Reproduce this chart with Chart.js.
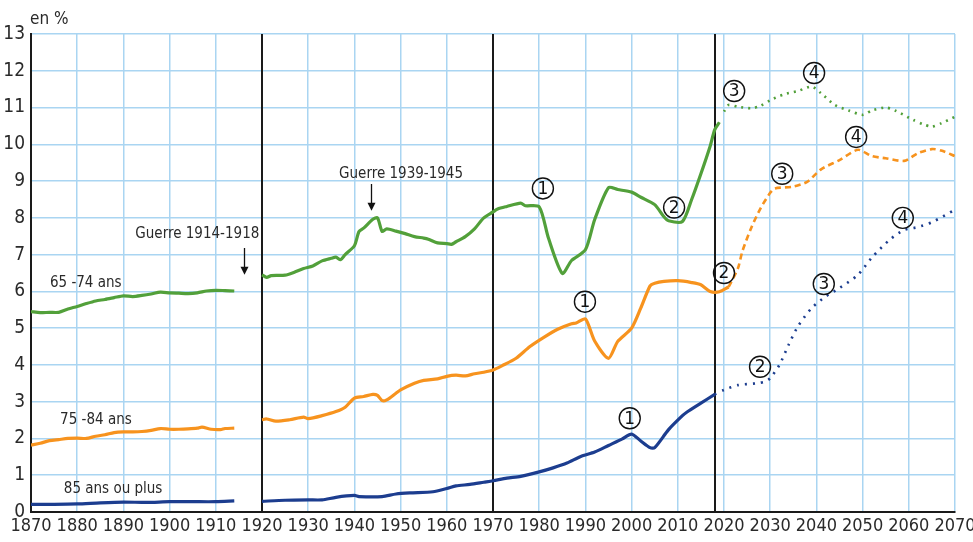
<!DOCTYPE html>
<html><head><meta charset="utf-8">
<script src="https://cdn.jsdelivr.net/npm/chart.js@4.4.1/dist/chart.umd.min.js"></script>
<style>html,body{margin:0;padding:0;background:#fff}#wrap{width:973px;height:542px}</style>
</head><body><div id="wrap"><canvas id="c" width="973" height="542"></canvas></div>
<script>
// ---- data ----
const yearsG = [1870,1872,1874,1876,1878,1880,1882,1884,1886,1888,1890,1892,1894,1896,1898,1900,1902,1904,1906,1908,1910,1912,1914,1917,
 1920,1921,1922,1925,1927,1929,1931,1933,1935,1936,1937,1938,1940,1941,1942,1944,1945,1946,1947,1949,1951,1953,1955,1956,1958,1960,1961,1962,1964,1966,1968,1970,1971,1973,1976,1977,1980,1982,1985,1987,1990,1992,1995,1997,2000,2002,2005,2007,2008,2011,2013,2015,2017,2018,2019];
const valsG = [5.45,5.42,5.43,5.43,5.52,5.59,5.67,5.74,5.78,5.83,5.88,5.86,5.89,5.93,5.98,5.96,5.95,5.94,5.96,6.01,6.03,6.02,6.01,null,
 6.45,6.38,6.43,6.44,6.52,6.62,6.69,6.83,6.90,6.93,6.86,7.00,7.24,7.63,7.72,7.96,8.00,7.63,7.70,7.64,7.57,7.49,7.45,7.42,7.32,7.30,7.28,7.35,7.49,7.70,8.00,8.16,8.24,8.31,8.40,8.33,8.30,7.45,6.49,6.84,7.13,7.95,8.82,8.77,8.70,8.56,8.36,8.03,7.92,7.90,8.50,9.20,9.95,10.40,10.60];
const yearsGp = [2020,2021,2023,2026,2028,2030,2033,2036,2039,2041,2044,2047,2050,2052,2055,2057,2061,2063,2065,2067,2070];
const valsGp = [10.89,11.07,11.02,10.98,11.05,11.20,11.36,11.45,11.57,11.39,11.07,10.92,10.80,10.92,11.00,10.92,10.66,10.55,10.48,10.57,10.75];

const yearsO = [1870,1872,1874,1876,1878,1880,1882,1884,1886,1888,1890,1892,1894,1896,1898,1900,1902,1904,1906,1907,1909,1911,1912,1914,1917,
 1920,1921,1923,1926,1929,1930,1933,1936,1938,1940,1942,1944,1945,1946,1947,1949,1950,1953,1955,1958,1960,1962,1964,1966,1968,1970,1972,1975,1978,1981,1984,1987,1988,1990,1992,1995,1997,2000,2002,2004,2005,2007,2010,2013,2015,2017,2019,2021];
const valsO = [1.82,1.87,1.94,1.97,2.00,2.01,2.00,2.06,2.10,2.16,2.18,2.18,2.19,2.22,2.27,2.25,2.25,2.26,2.28,2.31,2.25,2.24,2.27,2.28,null,
 2.51,2.53,2.47,2.51,2.58,2.54,2.62,2.73,2.85,3.10,3.14,3.20,3.17,3.03,3.05,3.23,3.32,3.50,3.58,3.62,3.69,3.72,3.70,3.76,3.80,3.86,3.98,4.18,4.50,4.75,4.97,5.12,5.14,5.25,4.65,4.18,4.64,5.00,5.55,6.15,6.22,6.27,6.29,6.24,6.18,6.00,5.99,6.12];
const yearsOp = [2021,2023,2024,2026,2028,2030,2031,2035,2038,2041,2045,2049,2052,2055,2059,2062,2065,2067,2070];
const valsOp = [6.12,6.62,7.10,7.76,8.28,8.68,8.80,8.85,8.98,9.32,9.57,9.85,9.68,9.62,9.55,9.76,9.87,9.83,9.68];

const yearsB = [1870,1875,1880,1885,1890,1895,1900,1905,1910,1914,1917,
 1920,1925,1930,1933,1936,1940,1941,1946,1949,1952,1957,1960,1962,1965,1968,1970,1973,1976,1980,1983,1986,1989,1992,1995,1998,2000,2002,2004,2005,2008,2011,2012,2015,2018];
const valsB = [0.21,0.21,0.22,0.25,0.27,0.26,0.28,0.28,0.28,0.30,null,
 0.29,0.32,0.33,0.33,0.40,0.45,0.42,0.42,0.49,0.52,0.55,0.64,0.71,0.75,0.81,0.85,0.92,0.97,1.09,1.20,1.33,1.51,1.63,1.81,1.99,2.12,1.93,1.75,1.75,2.24,2.62,2.72,2.96,3.20];
const yearsBp = [2018,2020,2023,2027,2029,2030,2032,2034,2036,2039,2042,2045,2049,2052,2056,2059,2062,2065,2070];
const valsBp = [3.20,3.32,3.45,3.50,3.55,3.64,4.00,4.55,5.05,5.55,5.86,6.09,6.45,6.92,7.42,7.67,7.75,7.88,8.22];

const dividerYears = [1920, 1970, 2018];
const seriesLabels = ['65 -74 ans', '75 -84 ans', '85 ans ou plus'];
const markers = ['1','2','3','4'];

const GREEN = '#52a03a', ORANGE = '#f7931e', BLUE = '#1c3d8f';
const FONT = '"Liberation Sans Narrow","DejaVu Sans Condensed","Liberation Sans",sans-serif';

function pts(xs, ys){ return xs.map((x,i)=>({x:x, y:ys[i]})); }

const annotations = [
  {text: seriesLabels[0], x:1874.1, y:6.22, align:'left', size:15},
  {text: seriesLabels[1], x:1876.3, y:2.51, align:'left', size:15},
  {text: seriesLabels[2], x:1877.1, y:0.61, align:'left', size:15},
  {text: 'Guerre 1914-1918', x:1906, y:7.56, align:'center', size:15},
  {text: 'Guerre 1939-1945', x:1950.1, y:9.19, align:'center', size:15}
];
const arrows = [ {x:1916.1, y0:7.18, y1:6.45}, {x:1943.6, y0:8.92, y1:8.19} ];
const circled = [
  {m:0, x:1980.8, y:8.80},{m:1, x:2009.2, y:8.28},{m:2, x:2022.2, y:11.45},{m:3, x:2039.5, y:11.94},
  {m:0, x:1989.9, y:5.72},{m:1, x:2020.0, y:6.50},{m:2, x:2032.6, y:9.20},{m:3, x:2048.6, y:10.20},
  {m:0, x:1999.6, y:2.55},{m:1, x:2027.8, y:3.95},{m:2, x:2041.6, y:6.20},{m:3, x:2058.7, y:8.00}
];

const overlay = {
  id:'overlay',
  beforeDatasetsDraw(chart){
    const {ctx, chartArea:a, scales:{x}} = chart;
    ctx.save();
    ctx.strokeStyle = '#1a1a1a'; ctx.lineWidth = 2;
    dividerYears.forEach(yr=>{
      const px = Math.round(x.getPixelForValue(yr));
      ctx.beginPath(); ctx.moveTo(px, a.top); ctx.lineTo(px, a.bottom); ctx.stroke();
    });
    ctx.restore();
  },
  afterDatasetsDraw(chart){
    const {ctx, chartArea:a, scales:{x,y}} = chart;
    ctx.save();
    ctx.fillStyle = '#2a2a2a';
    ctx.textBaseline = 'middle';
    annotations.forEach(t=>{
      ctx.font = t.size + 'px ' + FONT;
      ctx.textAlign = t.align;
      ctx.fillText(t.text, x.getPixelForValue(t.x), y.getPixelForValue(t.y));
    });
    arrows.forEach(ar=>{
      const px = Math.round(x.getPixelForValue(ar.x))+0.5;
      const p0 = y.getPixelForValue(ar.y0), p1 = y.getPixelForValue(ar.y1);
      ctx.strokeStyle = '#111'; ctx.lineWidth = 1.3;
      ctx.beginPath(); ctx.moveTo(px, p0); ctx.lineTo(px, p1-6); ctx.stroke();
      ctx.fillStyle = '#111';
      ctx.beginPath(); ctx.moveTo(px-4, p1-8); ctx.lineTo(px+4, p1-8); ctx.lineTo(px, p1); ctx.closePath(); ctx.fill();
    });
    ctx.textAlign = 'center';
    circled.forEach(c=>{
      const cx = x.getPixelForValue(c.x), cy = y.getPixelForValue(c.y);
      ctx.strokeStyle = '#111'; ctx.lineWidth = 1.4;
      ctx.beginPath(); ctx.arc(cx, cy, 10.5, 0, Math.PI*2); ctx.stroke();
      ctx.fillStyle = '#111';
      ctx.font = '17px "DejaVu Sans",sans-serif';
      ctx.fillText(markers[c.m], cx, cy+1);
    });
    ctx.font = '17px ' + FONT;
    ctx.textAlign = 'left';
    ctx.fillStyle = '#2a2a2a';
    ctx.fillText('en %', a.left - 1, a.top - 14);
    ctx.restore();
  }
};

new Chart(document.getElementById('c'), {
  type:'line',
  data:{ datasets:[
    {data:pts(yearsG, valsG), borderColor:GREEN, borderWidth:3.2, spanGaps:false},
    {data:pts(yearsGp, valsGp), borderColor:GREEN, borderWidth:2.6, borderDash:[2,5]},
    {data:pts(yearsO, valsO), borderColor:ORANGE, borderWidth:3.2, spanGaps:false},
    {data:pts(yearsOp, valsOp), borderColor:ORANGE, borderWidth:2.6, borderDash:[6,4]},
    {data:pts(yearsB, valsB), borderColor:BLUE, borderWidth:3.2, spanGaps:false},
    {data:pts(yearsBp, valsBp), borderColor:BLUE, borderWidth:2.6, borderDash:[2,6]}
  ]},
  options:{
    responsive:false, animation:false,
    layout:{padding:{top:34, right:18, left:0, bottom:0}},
    elements:{ point:{radius:0}, line:{tension:0.25, borderCapStyle:'butt', borderJoinStyle:'round', fill:false} },
    plugins:{legend:{display:false}, tooltip:{enabled:false}},
    scales:{
      x:{ type:'linear', min:1870, max:2070,
          ticks:{stepSize:10, autoSkip:false, maxRotation:0, padding:4, color:'#2a2a2a', font:{family:FONT, size:18}, callback:v=>String(v)},
          grid:{color:'#aad5f2', lineWidth:1.5, drawTicks:false},
          border:{color:'#1a1a1a', width:2},
          afterFit(s){ s.height = 30; s.paddingLeft = 0; s.paddingRight = 0; } },
      y:{ min:0, max:13,
          ticks:{stepSize:1, padding:6, color:'#2a2a2a', font:{family:FONT, size:19}},
          grid:{color:'#aad5f2', lineWidth:1.5, drawTicks:false},
          border:{color:'#1a1a1a', width:2},
          afterFit(s){ s.width = 31; s.paddingTop = 0; s.paddingBottom = 0; } }
    }
  },
  plugins:[overlay]
});
</script></body></html>
